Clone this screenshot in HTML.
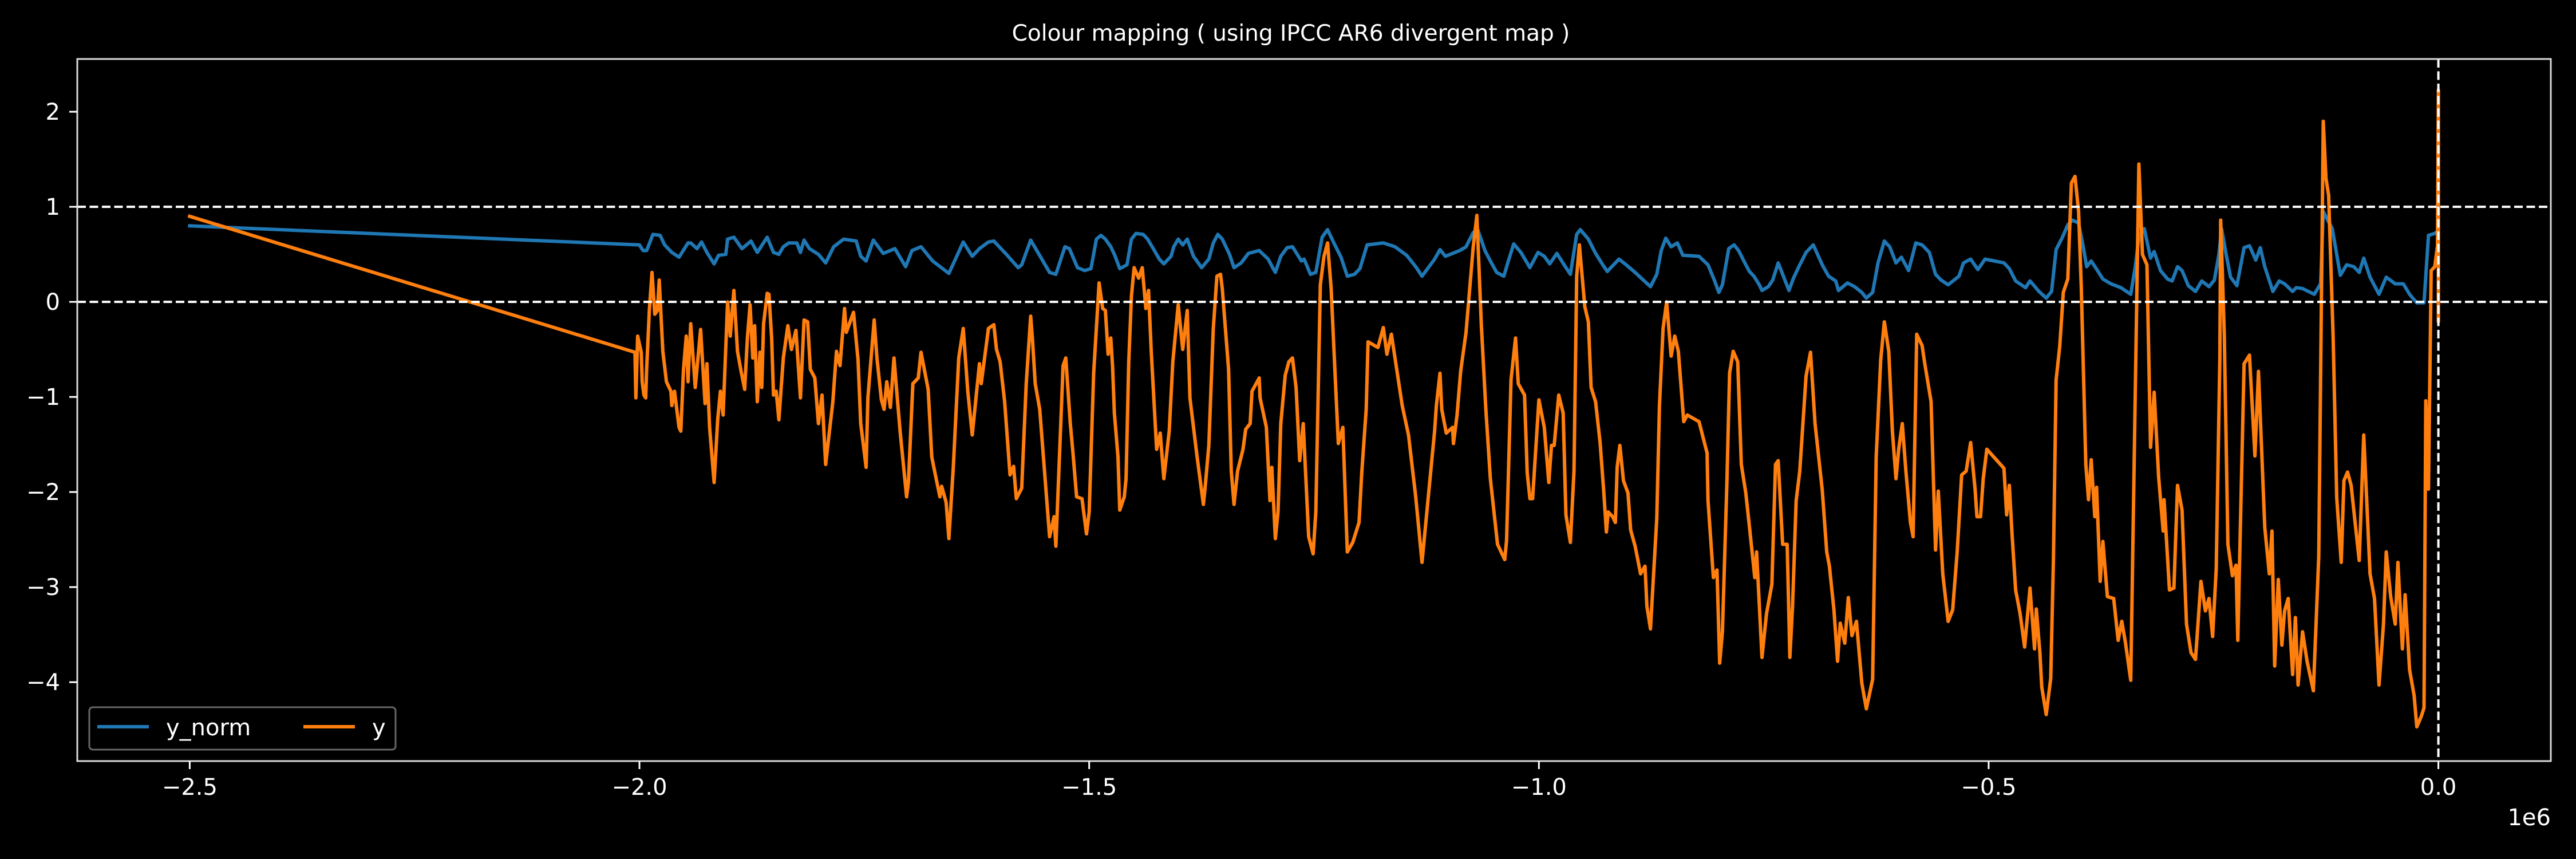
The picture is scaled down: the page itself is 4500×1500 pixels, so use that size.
<!DOCTYPE html>
<html><head><meta charset="utf-8"><style>
html,body{margin:0;padding:0;background:#000;}
svg{display:block;}
text{font-family:"DejaVu Sans","Liberation Sans",sans-serif;fill:#fff;}
</style></head><body>
<svg id="chart" width="4500" height="1500" viewBox="0 0 4500 1500" xmlns="http://www.w3.org/2000/svg">
<rect x="0" y="0" width="4500" height="1500" fill="#000"/>
<text x="2255" y="71" font-size="39" text-anchor="middle">Colour mapping ( using IPCC AR6 divergent map )</text>
<g id="plot"></g>
</svg>
<script>
const xTicks = [-2.5, -2.0, -1.5, -1.0, -0.5, 0.0];
const xTickLabels = ["\u22122.5", "\u22122.0", "\u22121.5", "\u22121.0", "\u22120.5", "0.0"];
const yTicks = [-4, -3, -2, -1, 0, 1, 2];
const yTickLabels = ["\u22124", "\u22123", "\u22122", "\u22121", "0", "1", "2"];
const refLines = [0, 1];
const seriesNames = ["y_norm", "y"];
// ages in kyr (x value = age*1000), values
const normAge = [-2500,-2000,-1996,-1992,-1985,-1977,-1972,-1964,-1956,-1946,-1943,-1936,-1931,-1925,-1917,-1912,-1904,-1902,-1895,-1886,-1876,-1869,-1858,-1851,-1845,-1840,-1834,-1825,-1821,-1817,-1811,-1801,-1793,-1784,-1773,-1759,-1754,-1748,-1740,-1729,-1716,-1704,-1697,-1687,-1674,-1656,-1640,-1630,-1622,-1612,-1606,-1592,-1579,-1575,-1565,-1557,-1544,-1537,-1527,-1522,-1513,-1505,-1498,-1492,-1487,-1482,-1476,-1472,-1466,-1458,-1453,-1448,-1440,-1435,-1430,-1422,-1417,-1409,-1406,-1401,-1396,-1391,-1384,-1375,-1367,-1362,-1357,-1352,-1344,-1339,-1331,-1323,-1311,-1301,-1296,-1293,-1287,-1280,-1274,-1264,-1261,-1254,-1248,-1241,-1235,-1228,-1220,-1213,-1205,-1199,-1191,-1173,-1160,-1147,-1137,-1130,-1116,-1110,-1104,-1088,-1081,-1073,-1068,-1060,-1054,-1047,-1039,-1034,-1028,-1020,-1010,-1001,-994,-988,-980,-972,-965,-958,-954,-945,-937,-929,-924,-911,-903,-893,-884,-876,-869,-864,-859,-853,-846,-840,-822,-812,-805,-800,-796,-789,-783,-778,-771,-766,-761,-755,-752,-745,-740,-734,-729,-722,-717,-711,-703,-695,-685,-678,-670,-667,-657,-649,-641,-636,-629,-623,-616,-610,-603,-597,-589,-581,-574,-566,-559,-553,-545,-533,-528,-520,-512,-504,-483,-477,-470,-459,-454,-444,-436,-430,-425,-418,-412,-407,-400,-395,-391,-386,-379,-373,-364,-353,-342,-337,-333,-327,-320,-316,-309,-301,-296,-290,-285,-278,-270,-263,-255,-249,-244,-241,-236,-231,-224,-216,-210,-203,-198,-193,-184,-177,-171,-162,-158,-151,-138,-131,-128,-123,-118,-109,-102,-94,-88,-83,-76,-66,-58,-48,-39,-32,-24,-16,-11,-4,-1,0];
const normVal = [0.80,0.60,0.54,0.54,0.71,0.70,0.60,0.52,0.47,0.62,0.62,0.56,0.63,0.52,0.40,0.49,0.50,0.66,0.68,0.56,0.64,0.52,0.68,0.52,0.50,0.58,0.62,0.62,0.52,0.65,0.56,0.50,0.41,0.58,0.66,0.64,0.48,0.43,0.65,0.51,0.56,0.37,0.54,0.58,0.43,0.30,0.63,0.48,0.56,0.63,0.64,0.50,0.36,0.39,0.65,0.52,0.31,0.29,0.58,0.56,0.36,0.33,0.35,0.66,0.70,0.66,0.58,0.50,0.35,0.39,0.66,0.72,0.71,0.66,0.58,0.45,0.40,0.48,0.58,0.66,0.60,0.66,0.48,0.36,0.45,0.62,0.71,0.66,0.50,0.36,0.41,0.51,0.54,0.45,0.36,0.31,0.48,0.57,0.58,0.43,0.45,0.29,0.31,0.68,0.76,0.62,0.47,0.27,0.29,0.35,0.60,0.62,0.58,0.49,0.37,0.27,0.45,0.55,0.48,0.54,0.58,0.73,0.76,0.54,0.43,0.31,0.27,0.43,0.61,0.52,0.36,0.52,0.48,0.40,0.51,0.39,0.29,0.71,0.76,0.66,0.51,0.39,0.32,0.45,0.39,0.31,0.23,0.16,0.29,0.54,0.67,0.58,0.62,0.49,0.48,0.39,0.23,0.10,0.18,0.56,0.60,0.54,0.41,0.32,0.27,0.18,0.12,0.16,0.23,0.41,0.29,0.12,0.25,0.37,0.52,0.60,0.39,0.27,0.22,0.12,0.20,0.16,0.10,0.04,0.10,0.41,0.64,0.58,0.41,0.47,0.33,0.62,0.60,0.52,0.29,0.23,0.18,0.27,0.41,0.45,0.34,0.45,0.41,0.35,0.22,0.15,0.22,0.11,0.04,0.11,0.55,0.68,0.81,0.86,0.83,0.59,0.37,0.43,0.33,0.24,0.19,0.15,0.08,0.37,0.68,0.77,0.46,0.53,0.33,0.24,0.22,0.37,0.33,0.17,0.11,0.22,0.16,0.23,0.50,0.77,0.50,0.26,0.17,0.57,0.59,0.44,0.57,0.37,0.11,0.22,0.19,0.11,0.15,0.14,0.08,0.19,0.95,0.86,0.77,0.28,0.39,0.37,0.31,0.46,0.26,0.08,0.26,0.19,0.19,0.08,-0.01,-0.01,0.70,0.72,0.74,0.60];
const yAge = [-2500,-2005,-2004,-2002,-1998,-1997,-1995,-1993,-1992,-1989,-1986,-1983,-1980,-1978,-1974,-1970,-1965,-1964,-1961,-1956,-1954,-1951,-1948,-1946,-1943,-1938,-1932,-1927,-1925,-1922,-1917,-1913,-1910,-1907,-1902,-1899,-1895,-1891,-1887,-1883,-1880,-1877,-1874,-1872,-1869,-1866,-1864,-1862,-1858,-1856,-1853,-1851,-1848,-1845,-1840,-1835,-1831,-1826,-1821,-1817,-1813,-1810,-1805,-1801,-1797,-1793,-1785,-1781,-1777,-1772,-1770,-1762,-1757,-1754,-1748,-1746,-1739,-1736,-1731,-1728,-1725,-1721,-1717,-1713,-1710,-1703,-1701,-1696,-1690,-1687,-1679,-1675,-1671,-1666,-1664,-1659,-1656,-1651,-1645,-1640,-1635,-1630,-1622,-1620,-1612,-1606,-1603,-1599,-1594,-1588,-1584,-1581,-1575,-1570,-1565,-1563,-1560,-1555,-1544,-1539,-1537,-1529,-1526,-1521,-1518,-1514,-1508,-1503,-1500,-1495,-1489,-1485,-1482,-1479,-1476,-1474,-1472,-1468,-1466,-1461,-1459,-1456,-1453,-1450,-1445,-1441,-1437,-1434,-1431,-1425,-1421,-1417,-1411,-1407,-1401,-1396,-1391,-1388,-1380,-1373,-1371,-1367,-1362,-1358,-1354,-1352,-1345,-1342,-1339,-1335,-1329,-1326,-1321,-1319,-1311,-1310,-1303,-1299,-1297,-1293,-1290,-1287,-1282,-1278,-1274,-1270,-1266,-1262,-1256,-1251,-1248,-1243,-1239,-1235,-1231,-1228,-1223,-1218,-1213,-1207,-1200,-1197,-1192,-1190,-1179,-1173,-1169,-1164,-1160,-1152,-1145,-1137,-1130,-1116,-1114,-1110,-1108,-1103,-1096,-1095,-1091,-1087,-1081,-1073,-1069,-1064,-1059,-1054,-1046,-1038,-1036,-1031,-1026,-1023,-1016,-1013,-1010,-1007,-1000,-994,-989,-986,-983,-978,-973,-970,-965,-961,-958,-955,-949,-945,-942,-937,-932,-928,-925,-923,-918,-915,-913,-910,-906,-901,-898,-893,-887,-882,-880,-876,-869,-866,-862,-858,-853,-849,-845,-841,-839,-835,-822,-813,-812,-806,-802,-799,-796,-791,-788,-784,-779,-775,-770,-766,-760,-758,-752,-747,-741,-737,-734,-729,-724,-721,-718,-714,-710,-703,-698,-693,-685,-680,-677,-672,-668,-665,-660,-656,-652,-647,-641,-636,-629,-625,-620,-616,-611,-607,-603,-600,-596,-592,-587,-584,-580,-574,-571,-564,-559,-556,-551,-545,-540,-535,-530,-525,-520,-515,-513,-509,-506,-502,-483,-480,-477,-474,-470,-465,-460,-454,-449,-447,-443,-441,-436,-431,-428,-425,-421,-417,-412,-408,-404,-400,-397,-392,-389,-386,-382,-380,-376,-373,-368,-361,-356,-352,-348,-342,-337,-333,-329,-324,-320,-316,-311,-306,-305,-299,-294,-290,-285,-280,-275,-270,-264,-259,-255,-251,-247,-243,-242,-238,-234,-229,-225,-223,-216,-210,-204,-200,-193,-188,-185,-182,-178,-174,-171,-167,-162,-159,-156,-151,-146,-139,-133,-128,-125,-122,-117,-113,-108,-105,-101,-97,-92,-88,-83,-76,-71,-66,-61,-58,-53,-48,-45,-40,-37,-32,-27,-24,-19,-16,-14,-11,-8,-4,-1,0,0];
const yVal = [0.90,-0.53,-1.01,-0.36,-0.53,-0.84,-0.98,-1.01,-0.71,-0.09,0.31,-0.13,-0.09,0.23,-0.52,-0.84,-0.94,-1.09,-0.94,-1.32,-1.36,-0.71,-0.36,-0.84,-0.23,-0.90,-0.29,-1.07,-0.65,-1.32,-1.90,-1.24,-0.94,-1.19,0.00,-0.36,0.12,-0.52,-0.73,-0.92,-0.38,-0.03,-0.59,-0.25,-1.05,-0.53,-0.90,-0.23,0.09,0.08,-0.38,-0.98,-0.94,-1.24,-0.59,-0.25,-0.50,-0.30,-1.01,-0.19,-0.21,-0.71,-0.80,-1.28,-0.98,-1.71,-1.05,-0.52,-0.67,-0.07,-0.32,-0.11,-0.61,-1.28,-1.74,-1.01,-0.19,-0.59,-1.03,-1.13,-0.84,-1.11,-0.59,-1.05,-1.38,-2.05,-1.90,-0.86,-0.80,-0.53,-0.92,-1.63,-1.82,-2.05,-1.94,-2.11,-2.49,-1.73,-0.59,-0.28,-0.94,-1.40,-0.65,-0.86,-0.28,-0.24,-0.50,-0.63,-1.05,-1.82,-1.73,-2.07,-1.96,-0.86,-0.15,-0.40,-0.86,-1.13,-2.47,-2.26,-2.57,-0.67,-0.59,-1.28,-1.59,-2.05,-2.07,-2.44,-2.21,-0.75,0.20,-0.07,-0.09,-0.55,-0.38,-0.67,-1.17,-1.63,-2.19,-2.05,-1.86,-0.63,0.06,0.36,0.25,0.36,-0.07,0.12,-0.52,-1.55,-1.38,-1.86,-1.36,-0.63,-0.03,-0.50,-0.09,-1.01,-1.63,-2.13,-1.94,-1.51,-0.28,0.27,0.29,0.14,-0.71,-1.78,-2.13,-1.78,-1.55,-1.34,-1.28,-0.94,-0.80,-1.01,-1.32,-2.09,-1.74,-2.49,-2.21,-1.28,-0.77,-0.63,-0.59,-0.90,-1.67,-1.28,-2.47,-2.65,-2.21,0.18,0.48,0.62,0.14,-0.48,-1.49,-1.32,-2.63,-2.53,-2.32,-1.80,-1.13,-0.42,-0.48,-0.27,-0.55,-0.34,-0.59,-1.09,-1.40,-2.05,-2.74,-1.36,-1.09,-0.75,-1.13,-1.38,-1.32,-1.49,-1.19,-0.73,-0.32,0.58,0.91,-0.25,-1.13,-1.86,-2.55,-2.71,-2.51,-0.82,-0.38,-0.86,-0.98,-1.80,-2.07,-2.07,-1.03,-1.32,-1.90,-1.51,-1.51,-0.98,-1.17,-2.24,-2.53,-1.78,0.27,0.60,-0.05,-0.21,-0.90,-1.05,-1.48,-1.98,-2.42,-2.21,-2.26,-2.32,-1.74,-1.51,-1.88,-2.01,-2.40,-2.57,-2.86,-2.78,-3.20,-3.44,-2.28,-1.09,-0.28,0.00,-0.57,-0.36,-0.52,-1.01,-1.26,-1.19,-1.26,-1.59,-2.09,-2.90,-2.82,-3.80,-3.47,-1.90,-0.75,-0.52,-0.63,-1.71,-2.01,-2.36,-2.90,-2.63,-3.74,-3.28,-2.97,-1.71,-1.67,-2.55,-2.55,-3.74,-3.20,-2.09,-1.78,-0.78,-0.53,-1.28,-1.98,-2.63,-2.78,-3.24,-3.78,-3.38,-3.59,-3.11,-3.51,-3.36,-4.01,-4.28,-3.97,-1.63,-0.61,-0.21,-0.52,-1.36,-1.86,-1.55,-1.28,-1.78,-2.32,-2.47,-0.34,-0.46,-0.65,-1.05,-2.61,-1.99,-2.86,-3.36,-3.24,-2.63,-1.82,-1.78,-1.48,-1.98,-2.26,-2.26,-1.86,-1.55,-1.75,-2.24,-1.93,-2.44,-3.03,-3.28,-3.63,-3.01,-3.65,-3.23,-3.69,-4.05,-4.34,-3.96,-2.72,-0.82,-0.47,0.10,0.24,1.25,1.32,0.95,0.15,-1.71,-2.08,-1.66,-2.26,-1.95,-2.94,-2.52,-3.10,-3.12,-3.56,-3.36,-3.58,-3.98,-0.95,1.45,0.50,0.39,-1.53,-0.95,-1.84,-2.41,-2.08,-3.03,-3.01,-1.93,-2.19,-3.39,-3.69,-3.76,-2.94,-3.25,-3.12,-3.52,-2.81,-0.60,0.86,-0.34,-2.55,-2.88,-2.77,-3.56,-0.65,-0.56,-1.62,-0.73,-2.37,-2.86,-2.41,-3.83,-2.92,-3.61,-3.25,-3.12,-3.92,-3.32,-4.03,-3.47,-3.78,-4.09,-2.68,1.90,1.30,1.12,-0.38,-2.06,-2.74,-1.88,-1.79,-1.93,-2.37,-2.72,-1.40,-2.86,-3.12,-4.03,-3.39,-2.63,-3.10,-3.39,-2.74,-3.65,-3.08,-3.87,-4.14,-4.47,-4.36,-4.27,-1.04,-1.97,0.33,0.37,0.59,2.23,-0.20];

const NS = "http://www.w3.org/2000/svg";
const L = 135, R = 4456, T = 103, B = 1329;
const xMin = -2625, xMax = 125, yMin = -4.83, yMax = 2.555;
function sx(k){ return L + (k - xMin) / (xMax - xMin) * (R - L); }
function sy(v){ return B - (v - yMin) / (yMax - yMin) * (B - T); }
const plot = document.getElementById('plot');
function mk(tag, attrs){ const e = document.createElementNS(NS, tag); for (const k in attrs) e.setAttribute(k, attrs[k]); return e; }

const defs = mk('defs', {});
const cp = mk('clipPath', {id: 'clip'});
cp.appendChild(mk('rect', {x: L, y: T, width: R - L, height: B - T}));
defs.appendChild(cp);
plot.appendChild(defs);

const lines = mk('g', {'clip-path': 'url(#clip)'});
function drawLine(ages, vals, color, name){
  let d = '';
  const n = Math.min(ages.length, vals.length);
  for (let i = 0; i < n; i++) d += (i ? 'L' : 'M') + sx(ages[i]).toFixed(1) + ' ' + sy(vals[i]).toFixed(1);
  const p = mk('path', {d: d, fill: 'none', stroke: color, 'stroke-width': 6, 'stroke-linejoin': 'round', 'stroke-linecap': 'square'});
  
  
  lines.appendChild(p);
}
drawLine(normAge, normVal, '#1f77b4', 'y-norm-line');
drawLine(yAge, yVal, '#ff7f0e', 'y-line');
refLines.forEach(v => {
  const l = mk('line', {x1: L, x2: R, y1: sy(v), y2: sy(v), stroke: '#fff', 'stroke-width': 4, 'stroke-dasharray': '15 6.5'});
  
  
  lines.appendChild(l);
});
const vl = mk('line', {x1: sx(0), x2: sx(0), y1: T, y2: B, stroke: '#fff', 'stroke-width': 4, 'stroke-dasharray': '15 6.5'});


lines.appendChild(vl);
plot.appendChild(lines);

const frame = mk('rect', {x: L, y: T, width: R - L, height: B - T, fill: 'none', stroke: '#d9d9d9', 'stroke-width': 3});


plot.appendChild(frame);

xTicks.forEach((t, i) => {
  const x = sx(t * 1000);
  const tk = mk('line', {x1: x, x2: x, y1: B, y2: B + 14, stroke: '#fff', 'stroke-width': 3});
  
  
  plot.appendChild(tk);
  const tx = mk('text', {x: x, y: B + 59, 'font-size': 40, 'text-anchor': 'middle'});
  tx.textContent = xTickLabels[i];
  
  
  plot.appendChild(tx);
});
yTicks.forEach((t, i) => {
  const y = sy(t);
  const tk = mk('line', {x1: L - 14, x2: L, y1: y, y2: y, stroke: '#fff', 'stroke-width': 3});
  
  
  plot.appendChild(tk);
  const tx = mk('text', {x: L - 30, y: y + 14, 'font-size': 40, 'text-anchor': 'end'});
  tx.textContent = yTickLabels[i];
  
  
  plot.appendChild(tx);
});
const off = mk('text', {x: R, y: 1441, 'font-size': 40, 'text-anchor': 'end'});
off.textContent = '1e6';


plot.appendChild(off);

const lg = mk('g', {});


const box = mk('rect', {x: 156, y: 1235, width: 535, height: 74, rx: 6, fill: '#000', 'fill-opacity': 0.8, stroke: '#666', 'stroke-width': 3});


lg.appendChild(box);
const legColors = ['#1f77b4', '#ff7f0e'];
const legX = [170, 530];
seriesNames.forEach((n, i) => {
  const h = mk('line', {x1: legX[i], x2: legX[i] + 90, y1: 1269, y2: 1269, stroke: legColors[i], 'stroke-width': 6});
  
  
  lg.appendChild(h);
  const t = mk('text', {x: legX[i] + 120, y: 1284, 'font-size': 40});
  t.textContent = n;
  
  
  lg.appendChild(t);
});
plot.appendChild(lg);
</script>
</body></html>
